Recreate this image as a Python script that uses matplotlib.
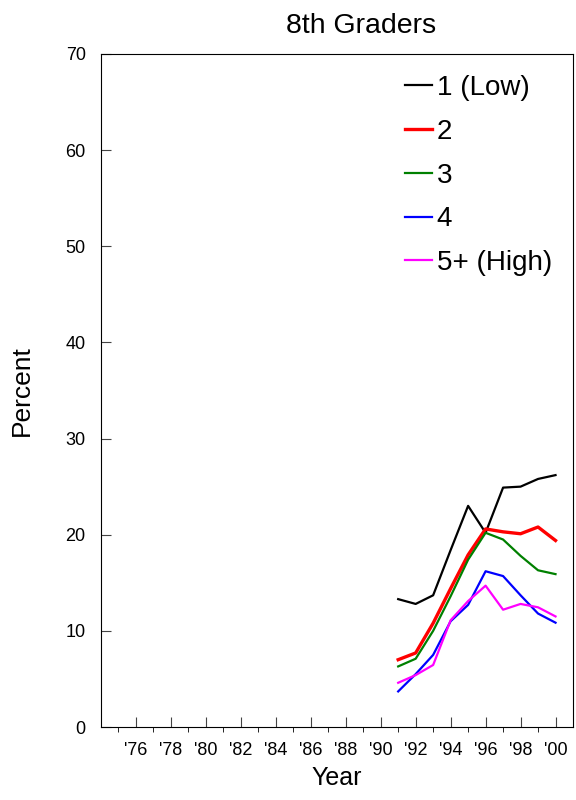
import matplotlib.pyplot as plt
import numpy as np

plt.rcParams['font.family'] = ['Liberation Sans', 'DejaVu Sans']

years = [1991, 1992, 1993, 1994, 1995, 1996, 1997, 1998, 1999, 2000]
low = [13.3, 12.8, 13.7, 18.4, 23.0, 20.2, 24.9, 25.0, 25.8, 26.2]
two = [7.0, 7.7, 10.8, 14.4, 17.9, 20.6, 20.3, 20.1, 20.8, 19.4]
three = [6.3, 7.1, 10.0, 13.6, 17.4, 20.2, 19.5, 17.8, 16.3, 15.9]
four = [3.7, 5.5, 7.5, 11.0, 12.7, 16.2, 15.7, 13.7, 11.8, 10.85]
high = [4.6, 5.4, 6.45, 11.1, 13.1, 14.7, 12.2, 12.8, 12.45, 11.5]

labels = ['1 (Low)', '2', '3', '4', '5+ (High)']
colors = ['black', 'red', 'green', 'blue', 'magenta']
widths = [1.6, 2.4, 1.6, 1.6, 1.6]

xticks = list(range(1976, 2001, 2))
xticklabels = ["'%02d" % (y % 100) for y in xticks]

fig = plt.figure(figsize=(5.76, 8), dpi=100)
ax = fig.add_axes([0.1753, 0.09125, 0.8195, 0.84125])

for s, lab, c, w in zip([low, two, three, four, high], labels, colors, widths):
    ax.plot(years, s, color=c, lw=w, label=lab)

ax.set_xlim(1974, 2001)
ax.set_ylim(0, 70)
ax.set_yticks(range(0, 71, 10))
ax.set_xticks(xticks)
ax.set_xticklabels(xticklabels)
ax.set_xticks(range(1975, 2001, 2), minor=True)
ax.tick_params(axis='both', direction='in', labelsize=13, color='#444444')
ax.tick_params(axis='x', which='major', length=7.5, pad=11)
ax.tick_params(axis='x', which='minor', length=3.5)
ax.tick_params(axis='y', length=7, pad=11)

ax.set_title('8th Graders', fontsize=20.5, pad=15, x=0.55)
ax.set_xlabel('Year', fontsize=18, labelpad=5)
ax.set_ylabel('Percent', fontsize=19, labelpad=23)

leg = ax.legend(loc='upper right', frameon=False, fontsize=20, handlelength=1.0,
                handletextpad=0.15, labelspacing=0.64, borderaxespad=0.36)

fig.savefig('out.png', dpi=100)
